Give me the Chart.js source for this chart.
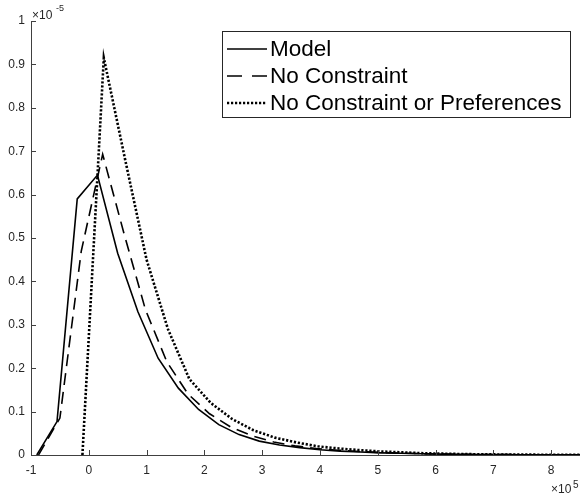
<!DOCTYPE html>
<html>
<head>
<meta charset="utf-8">
<script src="https://cdn.jsdelivr.net/npm/chart.js@4/dist/chart.umd.min.js"></script>
<style>
  body { margin: 0; background: #fff; }
</style>
</head>
<body>
<canvas id="grafica" width="580" height="501"></canvas>
<script>
// Datos (x en unidades de 10^5, y en unidades de 10^-5)
const modelX = [-0.9, -0.55, -0.2, 0.15, 0.5, 0.85, 1.2, 1.55, 1.9, 2.25, 2.6, 2.95, 3.3, 3.65, 4.0, 4.35, 4.7, 5.05, 5.4, 5.75, 6.1, 6.45, 6.8, 7.15, 7.5, 7.85, 8.2, 8.55];
const modelY = [0, 0.077, 0.59, 0.645, 0.465, 0.33, 0.223, 0.154, 0.105, 0.07, 0.047, 0.032, 0.023, 0.017, 0.012, 0.009, 0.007, 0.005, 0.004, 0.003, 0.002, 0.0015, 0.001, 0.001, 0.0007, 0.0005, 0.0003, 0.0002];

const noConsX = [-0.87, -0.5, -0.13, 0.24, 0.61, 0.98, 1.35, 1.72, 2.09, 2.46, 2.83, 3.2, 3.57, 3.94, 4.31, 4.68, 5.05, 5.42, 5.79, 6.16, 6.53, 6.9, 7.27, 7.64, 8.01, 8.38, 8.75];
const noConsY = [0, 0.085, 0.47, 0.693, 0.51, 0.335, 0.215, 0.14, 0.095, 0.064, 0.044, 0.03, 0.021, 0.015, 0.011, 0.008, 0.006, 0.004, 0.003, 0.002, 0.0015, 0.001, 0.0008, 0.0006, 0.0004, 0.0003, 0.0002];

const noPrefX = [-0.11, 0.26, 0.63, 1.0, 1.37, 1.74, 2.11, 2.48, 2.85, 3.22, 3.59, 3.96, 4.33, 4.7, 5.07, 5.44, 5.81, 6.18, 6.55, 6.92, 7.29, 7.66, 8.03, 8.4, 8.77];
const noPrefY = [0, 0.915, 0.68, 0.45, 0.29, 0.175, 0.12, 0.083, 0.057, 0.04, 0.029, 0.02, 0.015, 0.011, 0.008, 0.006, 0.004, 0.003, 0.002, 0.0015, 0.001, 0.0008, 0.0006, 0.0005, 0.0003];

const seriesNames = ['Model', 'No Constraint', 'No Constraint or Preferences'];
const xTicks = [-1, 0, 1, 2, 3, 4, 5, 6, 7, 8];
const yTicks = [0, 0.1, 0.2, 0.3, 0.4, 0.5, 0.6, 0.7, 0.8, 0.9, 1];

const FONT = '"Liberation Sans", Arial, Helvetica, sans-serif';
const AXIS = '#404040';

function pares(xs, ys) {
  return xs.map((x, i) => ({ x: x, y: ys[i] }));
}

// Marcas hacia dentro, exponentes y leyenda estilo MATLAB
const extras = {
  id: 'extras',
  afterDraw(chart) {
    const ctx = chart.ctx;
    const area = chart.chartArea;
    const sx = chart.scales.x;
    const sy = chart.scales.y;
    ctx.save();
    ctx.strokeStyle = AXIS;
    ctx.lineWidth = 1;
    ctx.beginPath();
    xTicks.forEach(v => {
      const px = Math.round(sx.getPixelForValue(v)) + 0.5;
      ctx.moveTo(px, area.bottom);
      ctx.lineTo(px, area.bottom - 5);
    });
    yTicks.forEach(v => {
      const py = Math.round(sy.getPixelForValue(v)) + 0.5;
      ctx.moveTo(area.left, py);
      ctx.lineTo(area.left + 5, py);
    });
    ctx.stroke();

    // exponentes
    ctx.fillStyle = '#262626';
    ctx.textBaseline = 'alphabetic';
    ctx.textAlign = 'left';
    ctx.font = '12px ' + FONT;
    ctx.fillText('\u00d710', 32, 19);
    ctx.font = '9px ' + FONT;
    ctx.fillText('-5', 56, 11);
    ctx.font = '12px ' + FONT;
    ctx.fillText('\u00d710', 551, 493);
    ctx.font = '10px ' + FONT;
    ctx.fillText('5', 573, 488);

    // leyenda
    const lx = 222.5, ly = 31.5, lw = 348, lh = 86;
    ctx.fillStyle = '#fff';
    ctx.fillRect(lx, ly, lw, lh);
    ctx.strokeStyle = '#262626';
    ctx.lineWidth = 1;
    ctx.setLineDash([]);
    ctx.strokeRect(lx, ly, lw, lh);
    const rows = [49, 76, 103];
    chart.data.datasets.forEach((ds, i) => {
      ctx.beginPath();
      ctx.strokeStyle = '#000';
      ctx.lineWidth = ds.borderWidth;
      ctx.setLineDash(ds.legendDash || ds.borderDash || []);
      ctx.moveTo(227, rows[i]);
      ctx.lineTo(267, rows[i]);
      ctx.stroke();
      ctx.setLineDash([]);
      ctx.fillStyle = '#000';
      ctx.font = '22.5px ' + FONT;
      ctx.textBaseline = 'middle';
      ctx.fillText(ds.label, 270, rows[i] + 1);
    });
    ctx.restore();
  }
};

const ctx = document.getElementById('grafica').getContext('2d');
new Chart(ctx, {
  type: 'line',
  data: {
    datasets: [
      {
        label: seriesNames[0],
        data: pares(modelX, modelY),
        borderColor: '#000',
        borderWidth: 1.6,
        pointRadius: 0,
        tension: 0
      },
      {
        label: seriesNames[1],
        data: pares(noConsX, noConsY),
        borderColor: '#000',
        borderWidth: 1.6,
        borderDash: [12, 7],
        legendDash: [15, 10],
        pointRadius: 0,
        tension: 0
      },
      {
        label: seriesNames[2],
        data: pares(noPrefX, noPrefY),
        borderColor: '#000',
        borderWidth: 2.6,
        borderDash: [2.2, 1.8],
        pointRadius: 0,
        tension: 0
      }
    ]
  },
  options: {
    responsive: false,
    animation: false,
    layout: { padding: { top: 21, right: 0, left: 0, bottom: 0 } },
    plugins: {
      legend: { display: false },
      tooltip: { enabled: false }
    },
    scales: {
      x: {
        type: 'linear',
        min: -1,
        max: 8.5,
        afterBuildTicks: s => { s.ticks = xTicks.map(v => ({ value: v })); },
        afterFit: s => { s.height = 46; },
        grid: { drawOnChartArea: false, drawTicks: false },
        border: { display: true, color: AXIS, width: 1 },
        ticks: {
          padding: 8,
          maxRotation: 0,
          autoSkip: false,
          color: '#262626',
          font: { family: FONT, size: 12 },
          callback: v => String(v)
        }
      },
      y: {
        type: 'linear',
        min: 0,
        max: 1,
        afterBuildTicks: s => { s.ticks = yTicks.map(v => ({ value: v })); },
        afterFit: s => { s.width = 31; },
        grid: { drawOnChartArea: false, drawTicks: false },
        border: { display: true, color: AXIS, width: 1 },
        ticks: {
          padding: 6,
          autoSkip: false,
          color: '#262626',
          font: { family: FONT, size: 12 },
          callback: v => String(v)
        }
      }
    }
  },
  plugins: [extras]
});
</script>
</body>
</html>
